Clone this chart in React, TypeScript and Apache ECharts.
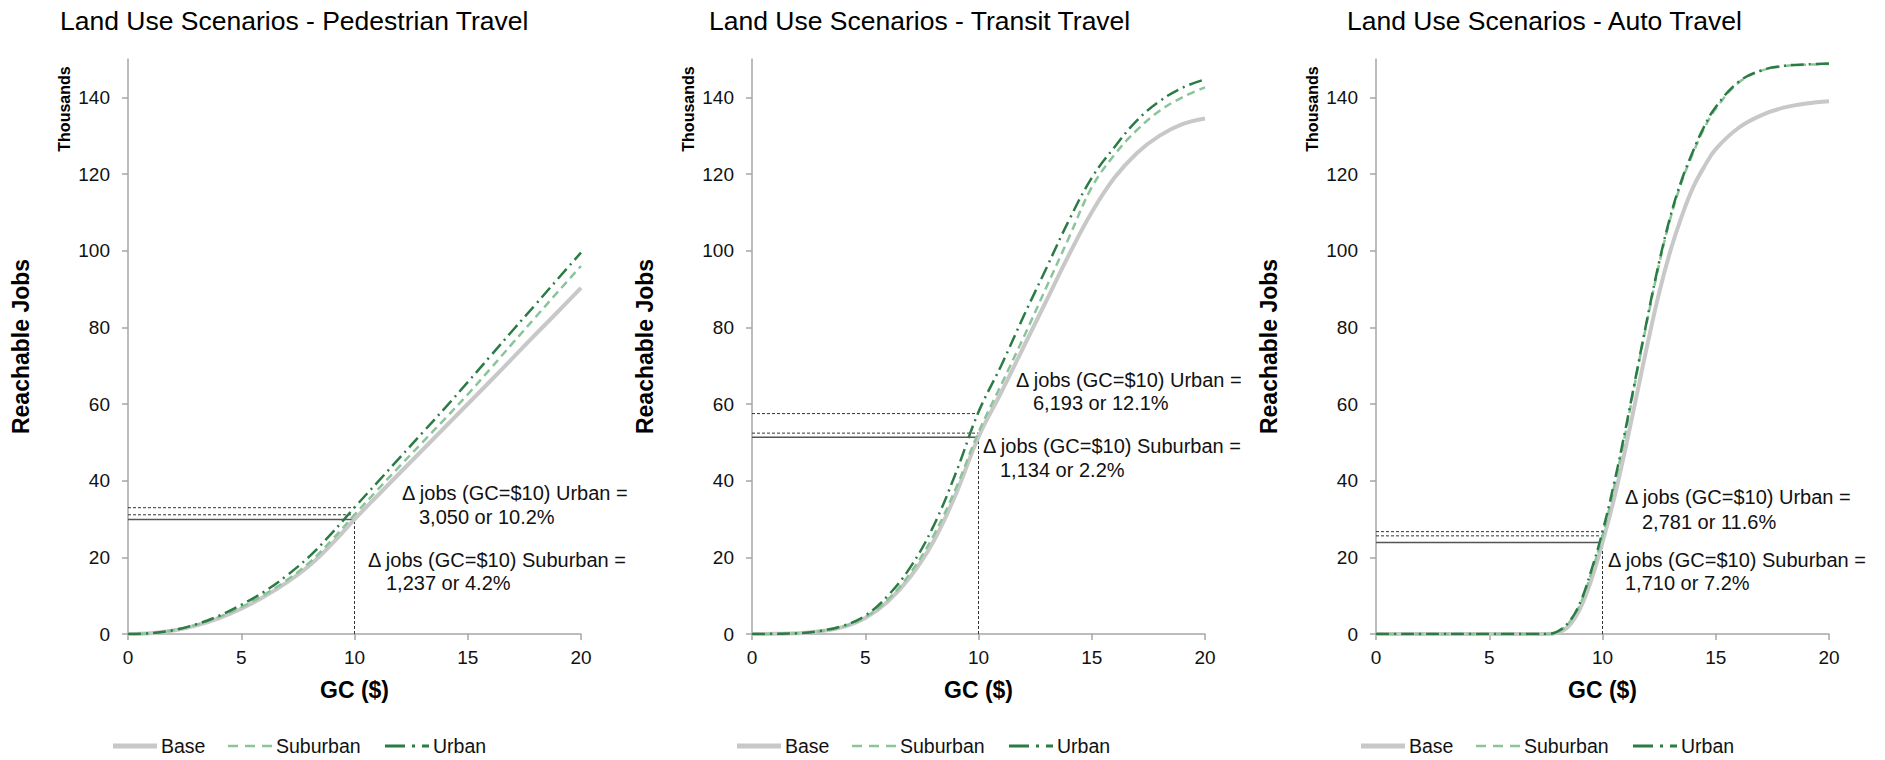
import React, { useEffect, useRef } from "react";
import * as echarts from "echarts";

// ---------- data ----------
const X_INT = [0, 1, 2, 3, 4, 5, 6, 7, 8, 9, 10, 11, 12, 13, 14, 15, 16, 17, 18, 19, 20];
const X_AUTO = [0, 1, 2, 3, 4, 5, 6, 7, 7.5, 8, 8.5, 9, 9.5, 10, 10.5, 11, 11.5, 12, 12.5, 13, 13.5, 14, 14.5, 15, 16, 17, 18, 19, 20];

const PED_BASE = [0, 0.2, 0.9, 2.2, 4.1, 6.6, 9.7, 13.4, 17.8, 23.5, 29.9, 36, 42, 48, 54, 60, 66, 72.1, 78.2, 84.2, 90.3];
const PED_SUB = [0, 0.2, 1, 2.4, 4.4, 7, 10.2, 14, 18.6, 24.5, 31.1, 37.5, 43.8, 50, 56.2, 62.5, 69.2, 76, 82.7, 89.4, 96];
const PED_URB = [0, 0.2, 1, 2.5, 4.7, 7.6, 11, 15.2, 20.2, 26.3, 33, 39.5, 46, 52.5, 59, 65.7, 72.5, 79.3, 86, 92.8, 99.5];

const TRN_BASE = [0, 0.05, 0.2, 0.7, 1.8, 4.2, 8.5, 15, 24, 36.5, 51.4, 63, 75, 87, 99, 110, 119, 125.5, 130, 133, 134.5];
const TRN_SUB = [0, 0.05, 0.2, 0.7, 1.9, 4.4, 9, 16, 25.5, 38, 52.6, 65, 77.5, 90.5, 103.5, 116.5, 125, 131.5, 136.5, 140, 142.6];
const TRN_URB = [0, 0.05, 0.2, 0.8, 2.1, 4.8, 10, 17.5, 28, 42, 57.9, 70, 83, 95.5, 108, 119, 127, 134, 139, 142.5, 144.7];

const AUTO_BASE = [0, 0, 0, 0, 0, 0, 0, 0, 0, 0.3, 2, 6.5, 14, 23.9, 35, 48, 62, 76, 89, 100, 109, 116.5, 122, 126.5, 132, 135.3, 137.3, 138.4, 139];
const AUTO_SUB = [0, 0, 0, 0, 0, 0, 0, 0, 0, 0.5, 2.8, 7.6, 15.8, 25.6, 38, 52, 67.5, 82.5, 96.5, 108.5, 118, 125.5, 132, 137, 143.8, 146.9, 148.1, 148.5, 148.7];
const AUTO_URB = [0, 0, 0, 0, 0, 0, 0, 0, 0, 0.6, 3, 8, 16.5, 26.7, 39, 53, 68, 83, 97, 109, 118.5, 126, 132.5, 137.5, 144, 147, 148.2, 148.6, 148.8];

// values at GC = $10 (thousands): base, suburban, urban
const REF_GC = 10;
const PED_REF = [29.9, 31.1, 32.95];
const TRN_REF = [51.3, 52.4, 57.5];
const AUTO_REF = [23.9, 25.6, 26.7];

const TITLES = [
  "Land Use Scenarios - Pedestrian Travel",
  "Land Use Scenarios - Transit Travel",
  "Land Use Scenarios - Auto Travel",
];
const NOTES = [
  ["Δ jobs (GC=$10) Urban =", "3,050 or 10.2%", "Δ jobs (GC=$10) Suburban =", "1,237 or 4.2%"],
  ["Δ jobs (GC=$10) Urban =", "6,193 or 12.1%", "Δ jobs (GC=$10) Suburban =", "1,134 or 2.2%"],
  ["Δ jobs (GC=$10) Urban =", "2,781 or 11.6%", "Δ jobs (GC=$10) Suburban =", "1,710 or 7.2%"],
];
const SERIES_NAMES = ["Base", "Suburban", "Urban"];
const Y_TICKS = [0, 20, 40, 60, 80, 100, 120, 140];

// ---------- styles ----------
const FONT = "Liberation Sans, Arial, Helvetica, sans-serif";
const COLORS = ["#c8c8c8", "#8cc49a", "#2b7b44"];
const WIDTHS = [4, 2.5, 2.5];
const LEGEND_WIDTHS = [5, 2.5, 3];
const DASHES: any[] = ["solid", [8, 5], [13, 5, 2, 5]];
const LEGEND_DASHES: any[] = [null, [10, 7], [20, 7, 3, 7]];

const GRID_LEFTS = [128, 752, 1376];
const GRID_W = 453;
const GRID_TOP = 59;
const GRID_H = 575;

const NOTE_POS = [
  [[402, 493], [419, 517], [368, 560], [386, 583]],
  [[1016, 380], [1033, 403], [983, 446], [1000, 470]],
  [[1625, 497], [1642, 522], [1608, 560], [1625, 583]],
];
const TITLE_X = [60, 709, 1347];
// legend item offsets relative to the plot's left edge: icon start, icon end, text start
const LEGEND_OFFS = [[-15, 29, 33], [100, 144, 148], [257, 301, 305]];
const LEGEND_Y = 746;

function zip(xs: number[], ys: number[]) {
  return xs.map((x, i) => [x, ys[i]]);
}

export default function App() {
  const ref = useRef<HTMLDivElement>(null);
  useEffect(() => {
    document.body.style.margin = "0";
    if (!ref.current) return;
    const chart = echarts.init(ref.current, undefined, { renderer: "svg" });

    const panels = [
      { xs: X_INT, data: [PED_BASE, PED_SUB, PED_URB], refv: PED_REF },
      { xs: X_INT, data: [TRN_BASE, TRN_SUB, TRN_URB], refv: TRN_REF },
      { xs: X_AUTO, data: [AUTO_BASE, AUTO_SUB, AUTO_URB], refv: AUTO_REF },
    ];

    const grids: any[] = [];
    const xAxes: any[] = [];
    const yAxes: any[] = [];
    const series: any[] = [];
    const graphics: any[] = [];

    const axisLine = { show: true, lineStyle: { color: "#a6a6a6", width: 1.5 } };

    panels.forEach((p, gi) => {
      grids.push({ left: GRID_LEFTS[gi], top: GRID_TOP, width: GRID_W, height: GRID_H });
      xAxes.push({
        type: "value",
        gridIndex: gi,
        min: 0,
        max: 20,
        interval: 5,
        name: "GC ($)",
        nameLocation: "middle",
        nameGap: 44,
        nameTextStyle: { fontFamily: FONT, fontSize: 23, fontWeight: "bold", color: "#000" },
        axisLine,
        axisTick: { show: true, inside: false, length: 6, lineStyle: { color: "#a6a6a6", width: 1.5 } },
        axisLabel: { fontFamily: FONT, fontSize: 19, color: "#111", margin: 14 },
        splitLine: { show: false },
      });
      yAxes.push({
        type: "value",
        gridIndex: gi,
        min: 0,
        max: 150,
        interval: 10,
        name: "Reachable Jobs",
        nameLocation: "middle",
        nameGap: 96,
        nameTextStyle: { fontFamily: FONT, fontSize: 23, fontWeight: "bold", color: "#000" },
        axisLine,
        axisTick: { show: true, inside: false, length: 6, customValues: Y_TICKS, lineStyle: { color: "#a6a6a6", width: 1.5 } },
        axisLabel: { fontFamily: FONT, fontSize: 19, color: "#111", margin: 18, customValues: Y_TICKS },
        splitLine: { show: false },
      });

      // reference lines
      const refStyles = [
        { color: "#555", width: 1.5, type: "solid" },
        { color: "#333", width: 1, type: [3, 2] },
        { color: "#333", width: 1, type: [3, 2] },
      ];
      p.refv.forEach((v, k) => {
        series.push({
          type: "line",
          name: "ref" + gi + "_" + k,
          xAxisIndex: gi,
          yAxisIndex: gi,
          data: [[0, v], [REF_GC, v]],
          symbol: "none",
          silent: true,
          lineStyle: refStyles[k],
          z: 1,
        });
      });
      series.push({
        type: "line",
        name: "refv" + gi,
        xAxisIndex: gi,
        yAxisIndex: gi,
        data: [[REF_GC, 0], [REF_GC, p.refv[0]]],
        symbol: "none",
        silent: true,
        lineStyle: { color: "#333", width: 1, type: [3, 2] },
        z: 1,
      });

      p.data.forEach((ys, k) => {
        series.push({
          type: "line",
          name: SERIES_NAMES[k],
          xAxisIndex: gi,
          yAxisIndex: gi,
          data: zip(p.xs, ys),
          symbol: "none",
          smooth: 0.4,
          color: COLORS[k],
          lineStyle: { color: COLORS[k], width: WIDTHS[k], type: DASHES[k] },
          z: 2 + k,
        });
      });

      // legend (drawn as graphic items)
      SERIES_NAMES.forEach((n, k) => {
        const o = LEGEND_OFFS[k];
        const x0 = GRID_LEFTS[gi];
        const ls: any = { stroke: COLORS[k], lineWidth: LEGEND_WIDTHS[k] };
        if (LEGEND_DASHES[k]) ls.lineDash = LEGEND_DASHES[k];
        graphics.push({
          type: "line",
          shape: { x1: x0 + o[0], y1: LEGEND_Y, x2: x0 + o[1], y2: LEGEND_Y },
          style: ls,
          silent: true,
        });
        graphics.push({
          type: "text",
          x: x0 + o[2],
          y: LEGEND_Y,
          style: { text: n, fontFamily: FONT, fontSize: 19.5, fill: "#111", align: "left", verticalAlign: "middle", textAlign: "left", textVerticalAlign: "middle" },
        });
      });

      graphics.push({
        type: "text",
        x: TITLE_X[gi],
        y: 21,
        style: { text: TITLES[gi], fontFamily: FONT, fontSize: 26.5, fill: "#000", align: "left", verticalAlign: "middle", textAlign: "left", textVerticalAlign: "middle" },
      });
      graphics.push({
        type: "text",
        x: GRID_LEFTS[gi] - 64,
        y: 109,
        rotation: Math.PI / 2,
        style: { text: "Thousands", fontFamily: FONT, fontSize: 16, fontWeight: "bold", fill: "#000", align: "center", verticalAlign: "middle", textAlign: "center", textVerticalAlign: "middle" },
      });
      NOTES[gi].forEach((t, j) => {
        graphics.push({
          type: "text",
          x: NOTE_POS[gi][j][0],
          y: NOTE_POS[gi][j][1],
          style: { text: t, fontFamily: FONT, fontSize: 20, fill: "#111", align: "left", verticalAlign: "middle", textAlign: "left", textVerticalAlign: "middle" },
        });
      });
    });

    chart.setOption({
      animation: false,
      backgroundColor: "#fff",
      grid: grids,
      xAxis: xAxes,
      yAxis: yAxes,
      series,
      graphic: graphics,
    });
    return () => chart.dispose();
  }, []);
  return <div ref={ref} style={{ width: 1885, height: 760 }} />;
}
